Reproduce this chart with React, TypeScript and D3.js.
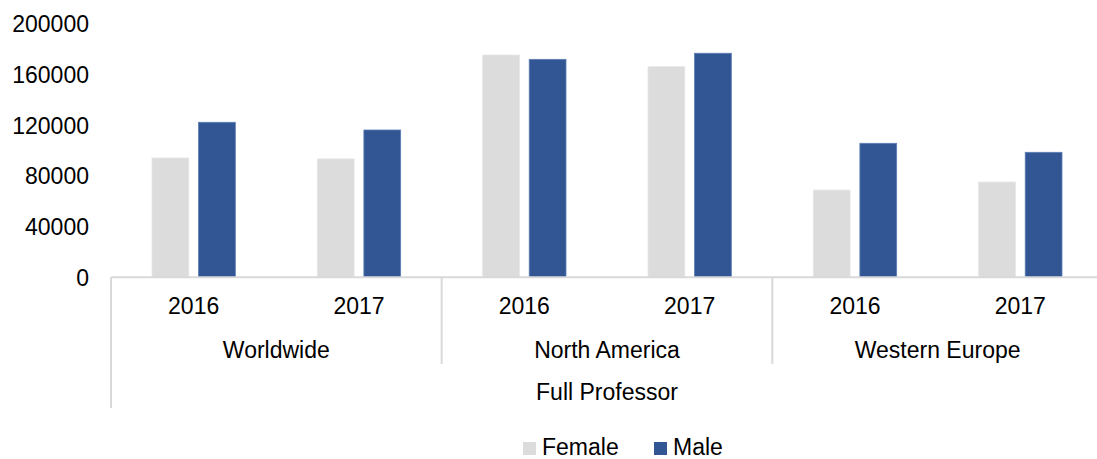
import React from "react";
import * as d3 from "d3";

const regions = ["Worldwide", "North America", "Western Europe"];
const years = ["2016", "2017"];
const groupLabel = "Full Professor";
const seriesNames = ["Female", "Male"];
const seriesColors = ["#DCDCDC", "#325693"];
const female = [94200, 93500, 175500, 166300, 68900, 75200];
const male = [122400, 116300, 172100, 176900, 105800, 98700];
const yTicks = [0, 40000, 80000, 120000, 160000, 200000];

const W = 1097;
const H = 459;
const FONT = "'Liberation Sans', Arial, Helvetica, sans-serif";

export default function App() {
  const left = 111;
  const right = 1103;
  const y0 = 277.3;
  const yTop = 24;
  const y = d3.scaleLinear().domain([0, 200000]).range([y0, yTop]);
  const cats = d3.range(regions.length * years.length);
  const x0 = d3.scaleBand<number>().domain(cats).range([left, right]).padding(0);
  const bw = x0.bandwidth();
  const x1 = d3
    .scaleBand<number>()
    .domain([0, 1])
    .range([bw * 0.248, bw * 0.752])
    .paddingInner(0.21)
    .paddingOuter(0);
  const series = [female, male];
  const gridStroke = "#D9D9D9";

  return (
    <svg
      width={W}
      height={H}
      style={{ position: "absolute", left: 0, top: 0, fontFamily: FONT }}
    >
      <rect x={0} y={0} width={W} height={H} fill="#fff" />
      {yTicks.map((t) => (
        <text
          key={t}
          x={89}
          y={y(t) + 8.3}
          textAnchor="end"
          fontSize={23}
          fill="#000"
        >
          {t}
        </text>
      ))}
      {series.map((vals, si) =>
        vals.map((v, ci) => (
          <rect
            key={`${si}-${ci}`}
            x={(x0(ci) as number) + (x1(si) as number)}
            y={y(v)}
            width={x1.bandwidth()}
            height={y0 - y(v)}
            fill={seriesColors[si]}
            stroke={si === 1 ? "#5C7DB4" : "#E6E6E6"}
            strokeWidth={0.8}
          />
        ))
      )}
      <line x1={left} x2={W} y1={y0} y2={y0} stroke={gridStroke} strokeWidth={2} />
      <line x1={left} x2={left} y1={y0} y2={408} stroke={gridStroke} strokeWidth={2} />
      {regions.map((r, ri) => {
        if (ri === 0) return null;
        const xs = x0(ri * years.length) as number;
        return (
          <line
            key={r}
            x1={xs}
            x2={xs}
            y1={y0}
            y2={364}
            stroke={gridStroke}
            strokeWidth={2}
          />
        );
      })}
      {cats.map((ci) => (
        <text
          key={ci}
          x={(x0(ci) as number) + bw / 2}
          y={314}
          textAnchor="middle"
          fontSize={23}
          fill="#000"
        >
          {years[ci % years.length]}
        </text>
      ))}
      {regions.map((r, ri) => (
        <text
          key={r}
          x={(x0(ri * years.length) as number) + bw}
          y={358}
          textAnchor="middle"
          fontSize={23}
          fill="#000"
        >
          {r}
        </text>
      ))}
      <text x={(left + right) / 2} y={400} textAnchor="middle" fontSize={23} fill="#000">
        {groupLabel}
      </text>
      {seriesNames.map((s, si) => {
        const lx = si === 0 ? 523 : 654;
        return (
          <g key={s}>
            <rect x={lx} y={442} width={13} height={13} fill={seriesColors[si]} />
            <text x={lx + 19} y={455} fontSize={23} fill="#000">
              {s}
            </text>
          </g>
        );
      })}
    </svg>
  );
}
